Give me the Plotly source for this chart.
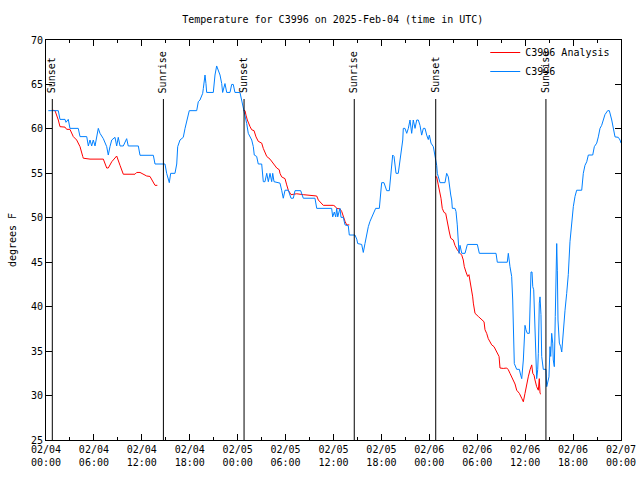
import pandas as pd
import plotly.graph_objects as go

BASE = pd.Timestamp("2025-02-04 00:00")

# Observed station temperature (hours since 2025-02-04 00:00 UTC, degrees F)
obs_hours = [0.29, 1.54, 1.75, 2.38, 2.5, 2.79, 3.0, 4.04, 4.26, 5.1, 5.3, 5.51, 5.72, 5.92, 6.14, 6.35,
             6.55, 6.76, 7.18, 7.6, 7.8, 8.01, 8.23, 8.64, 8.85, 9.05, 9.27, 9.68, 10.1, 10.3, 11.56, 11.77,
             13.44, 13.65, 14.9, 15.11, 15.44, 15.61, 16.15, 16.37, 16.49, 16.78, 17.19, 17.41, 17.62, 17.94,
             18.87, 19.07, 19.28, 19.62, 19.7, 19.91, 20.03, 20.12, 20.95, 21.16, 21.37, 21.58, 21.79, 22.0,
             22.12, 22.41, 22.63, 23.04, 23.25, 23.45, 23.66, 24.29, 24.5, 24.79, 24.92, 25.13, 25.33, 25.55,
             25.76, 25.96, 26.08, 26.38, 26.58, 27.01, 27.21, 27.42, 27.64, 27.84, 28.05, 28.26, 28.39, 28.55,
             28.89, 29.3, 29.51, 29.71, 29.93, 30.34, 30.68, 30.97, 31.18, 31.89, 32.22, 33.68, 33.9, 35.77,
             35.9, 36.1, 36.28, 36.4, 36.53, 36.65, 36.81, 36.94, 37.23, 37.44, 37.85, 37.98, 38.69, 38.91,
             39.03, 39.53, 39.73, 39.94, 40.16, 40.36, 40.57, 40.78, 41.07, 41.28, 41.74, 41.82, 41.91, 42.03,
             42.32, 42.45, 42.66, 42.99, 43.08, 43.29, 43.41, 43.58, 43.7, 43.83, 44.11, 44.24, 44.42, 44.67,
             44.74, 44.95, 45.17, 45.37, 45.58, 45.79, 45.99, 46.21, 46.42, 46.62, 46.83, 47.04, 47.25, 47.46,
             47.67, 47.87, 48.0, 48.21, 48.5, 48.71, 48.92, 49.0, 49.12, 49.34, 49.96, 50.17, 50.38, 50.5,
             50.68, 50.8, 50.88, 51.21, 51.34, 51.5, 51.63, 51.72, 51.84, 52.06, 52.47, 52.76, 54.01, 54.26,
             56.35, 56.51, 57.76, 57.89, 58.1, 58.31, 58.44, 58.51, 58.64, 58.94, 59.27, 59.44, 59.57, 59.77,
             59.98, 60.1, 60.27, 60.52, 60.61, 60.73, 60.86, 60.95, 61.07, 61.23, 61.36, 61.44, 61.57, 61.65,
             61.77, 61.86, 61.98, 62.07, 62.27, 62.61, 62.7, 62.82, 62.98, 63.11, 63.2, 63.32, 63.45, 63.52,
             63.65, 63.77, 63.86, 63.95, 64.03, 64.11, 64.28, 64.45, 64.58, 64.65, 64.78, 64.99, 65.2, 65.4,
             65.61, 65.83, 66.03, 66.24, 66.45, 67.08, 67.16, 67.28, 67.49, 67.71, 67.91, 68.46, 68.66, 68.96,
             69.16, 69.37, 69.58, 69.78, 69.99, 70.33, 70.54, 70.84, 71.04, 71.25, 71.66, 71.88, 72.0]
obs_temps = [62.05, 62.05, 61.07, 61.07, 60.74, 61.07, 60.06, 60.06, 59.13, 59.13, 58.08, 58.75, 58.08, 58.75,
             58.08, 59.13, 60.06, 59.5, 58.9, 58.0, 57.06, 58.0, 58.75, 59.05, 58.08, 59.05, 58.08, 58.08, 58.9,
             58.08, 58.08, 57.03, 57.03, 56.05, 56.05, 55.0, 53.95, 55.0, 55.0, 56.05, 58.0, 58.75, 59.05, 60.06,
             61.0, 62.05, 62.05, 63.06, 63.25, 64.0, 64.56, 66.06, 65.1, 64.1, 64.1, 66.06, 67.08, 66.6, 66.06,
             65.1, 64.1, 65.1, 64.1, 64.1, 65.0, 65.0, 64.1, 64.1, 63.25, 62.1, 61.2, 60.6, 59.5, 59.1, 58.75,
             58.0, 57.06, 56.9, 56.05, 56.05, 54.06, 54.06, 55.0, 54.06, 55.0, 54.06, 55.0, 54.06, 53.95, 53.9,
             53.1, 52.2, 53.1, 53.1, 52.2, 52.2, 53.05, 53.05, 52.2, 52.2, 51.06, 51.06, 50.1, 50.65, 50.1, 51.06,
             50.1, 50.65, 51.06, 50.05, 50.05, 49.2, 49.1, 48.06, 48.06, 47.6, 47.1, 47.0, 46.1, 47.1, 48.25,
             49.0, 49.6, 50.05, 50.7, 51.06, 51.06, 52.0, 53.1, 53.95, 53.95, 53.5, 53.05, 53.05, 53.9, 55.2,
             57.06, 56.9, 56.05, 55.0, 55.0, 55.9, 57.6, 58.75, 60.06, 60.06, 59.5, 60.06, 61.0, 59.5, 61.0,
             60.06, 61.0, 61.0, 60.4, 59.3, 60.06, 60.06, 59.3, 58.8, 59.3, 58.4, 58.0, 57.06, 55.9, 55.0, 54.6,
             53.95, 53.95, 55.0, 54.6, 53.5, 52.56, 52.0, 51.06, 51.06, 50.7, 49.2, 47.1, 46.0, 46.9, 46.0,
             46.0, 47.0, 47.0, 46.0, 46.0, 45.0, 45.0, 46.0, 44.5, 43.4, 40.75, 36.25, 33.6, 32.95, 32.95, 32.3,
             31.9, 34.0, 37.9, 37.4, 37.0, 37.0, 42.25, 43.9, 43.9, 42.25, 41.9, 38.1, 35.1, 31.9, 32.9, 34.75,
             40.4, 41.1, 39.1, 34.4, 32.95, 32.95, 31.0, 31.4, 32.1, 35.5, 34.4, 37.0, 35.9, 34.0, 33.25, 38.9,
             44.3, 47.1, 44.1, 38.5, 35.9, 35.5, 34.9, 35.9, 37.4, 39.6, 41.5, 43.6, 47.3, 49.6, 51.25, 52.4,
             53.1, 53.1, 54.25, 55.0, 55.9, 56.3, 57.06, 57.06, 58.0, 58.4, 59.1, 60.06, 60.4, 61.0, 61.6,
             62.05, 62.05, 61.0, 60.06, 59.1, 59.05, 58.75, 58.4]

# Analysis (three overnight segments, separated by gaps)
ana_hours = [0.84, 1.13, 1.54, 1.75, 2.38, 2.59, 3.0, 3.42, 3.84, 4.26, 4.6, 4.67, 5.51, 7.18, 7.6, 7.8,
             8.23, 8.85, 9.27, 9.68, 11.14, 11.36, 11.77, 12.18, 12.61, 13.02, 13.44, 13.65, 13.94,
             None,
             24.71, 24.92, 25.04, 25.21, 25.55, 25.76, 26.05, 26.3, 26.58, 27.01, 27.21, 27.64, 28.05, 28.46,
             28.89, 29.21, 29.3, 29.51, 29.93, 30.14, 30.34, 30.68, 31.39, 32.22, 33.27, 33.9, 34.1, 34.52,
             34.72, 35.97, 36.19, 36.4, 36.81, 37.03, 37.23, 37.44, 37.65, 37.98,
             None,
             48.71, 48.92, 49.12, 49.34, 49.46, 49.62, 49.84, 50.05, 50.25, 50.5, 50.68, 51.0, 51.21, 51.5,
             51.84, 52.06, 52.25, 52.38, 52.59, 52.8, 52.96, 53.18, 53.31, 53.43, 53.51, 53.72, 54.13, 54.56,
             54.85, 54.97, 55.18, 55.38, 55.68, 55.81, 56.1, 56.44, 56.73, 56.85, 57.26, 57.69, 57.89, 58.1,
             58.31, 58.51, 58.73, 58.94, 59.27, 59.57, 59.77, 59.98, 60.19, 60.39, 60.61, 60.82, 60.95, 61.11,
             61.23, 61.44, 61.65, 61.77, 61.86, 61.98]
ana_temps = [62.1, 62.05, 61.0, 60.25, 60.2, 59.95, 59.95, 59.13, 58.75, 58.0, 56.9, 56.7, 56.6, 56.6, 55.6,
             55.6, 56.3, 56.95, 55.9, 54.9, 54.9, 55.1, 55.1, 54.9, 54.7, 54.65, 53.95, 53.65, 53.65,
             None,
             62.1, 62.05, 61.55, 61.0, 60.25, 59.9, 59.8, 59.1, 58.6, 58.4, 57.8, 56.9, 56.6, 56.1, 55.6, 55.4,
             55.0, 54.6, 54.4, 53.7, 53.1, 52.6, 52.7, 52.6, 52.5, 52.45, 52.0, 51.55, 51.4, 51.4, 51.3, 51.06,
             51.0, 50.7, 50.1, 49.6, 49.2, 49.2,
             None,
             54.6, 54.6, 53.7, 52.9, 52.2, 51.06, 50.6, 50.5, 49.4, 48.4, 47.7, 47.5, 46.9, 46.4, 46.0, 45.8,
             45.25, 44.5, 43.9, 43.4, 43.6, 42.6, 41.9, 41.1, 40.4, 39.25, 38.9, 38.5, 38.3, 37.4, 37.0, 36.4,
             35.9, 35.7, 35.5, 34.9, 34.4, 33.1, 33.05, 33.1, 32.9, 32.5, 32.1, 31.75, 31.3, 30.6, 30.25, 29.7,
             29.3, 30.25, 31.4, 32.1, 32.9, 33.45, 32.5, 32.3, 31.75, 31.0, 30.6, 31.9, 30.25, 30.15]

# Sunset / sunrise markers
event_hours = [0.79, 14.7, 24.8, 38.6, 48.8, 62.6]
event_labels = ["Sunset", "Sunrise", "Sunset", "Sunrise", "Sunset", "Sunrise"]

y_ticks = [25, 30, 35, 40, 45, 50, 55, 60, 65, 70]


def to_time(hours):
    return [None if h is None else BASE + pd.Timedelta(hours=h) for h in hours]


FONT = "DejaVu Sans Mono"

fig = go.Figure()
fig.add_trace(go.Scatter(x=to_time(ana_hours), y=ana_temps, mode="lines", name="C3996 Analysis",
                         line=dict(color="#ff0000", width=1), connectgaps=False))
fig.add_trace(go.Scatter(x=to_time(obs_hours), y=obs_temps, mode="lines", name="C3996",
                         line=dict(color="#0080ff", width=1)))

for h, lab in zip(event_hours, event_labels):
    t = BASE + pd.Timedelta(hours=h)
    fig.add_shape(type="line", xref="x", yref="paper", x0=t, x1=t, y0=0, y1=0.8525,
                  line=dict(color="black", width=1))
    fig.add_annotation(x=t, y=0.8625, xref="x", yref="paper", text=lab, textangle=-90,
                       showarrow=False, xanchor="center", yanchor="bottom",
                       font=dict(family=FONT, size=10, color="black"))

fig.update_layout(
    width=640, height=480,
    margin=dict(l=46, r=19, t=40, b=40, autoexpand=False),
    paper_bgcolor="white", plot_bgcolor="white",
    font=dict(family=FONT, size=10, color="black"),
    title=dict(text="Temperature for C3996 on 2025-Feb-04 (time in UTC)", x=0.52, xanchor="center",
               y=1 - 19 / 480, yanchor="middle", automargin=False,
               font=dict(family=FONT, size=10, color="black")),
    showlegend=True,
    legend=dict(x=0.99, xanchor="right", y=1.005, yanchor="top", bgcolor="rgba(0,0,0,0)",
                font=dict(family=FONT, size=10), tracegroupgap=0, itemwidth=30),
)

fig.update_xaxes(
    type="date", automargin=False,
    range=[BASE, BASE + pd.Timedelta(hours=72)],
    dtick=6 * 3600 * 1000, tick0=BASE,
    tickformat="%m/%d<br>%H:%M",
    ticks="inside", ticklen=6, tickcolor="black",
    minor=dict(ticks="inside", ticklen=3, dtick=3 * 3600 * 1000, tick0=BASE, tickcolor="black"),
    showline=True, linecolor="black", linewidth=1, mirror="allticks",
    showgrid=False, zeroline=False,
    tickfont=dict(family=FONT, size=10, color="black"),
)
fig.update_yaxes(
    automargin=False,
    range=[25, 70], tickvals=y_ticks,
    ticks="inside", ticklen=6, tickcolor="black",
    showline=True, linecolor="black", linewidth=1, mirror="allticks",
    showgrid=False, zeroline=False,
    title=dict(text="degrees F", font=dict(family=FONT, size=10, color="black"), standoff=12),
    tickfont=dict(family=FONT, size=10, color="black"),
)

fig.write_html("out.html", config={"displayModeBar": False},
               post_script="document.body.style.margin='0px';document.body.style.overflow='hidden';")
